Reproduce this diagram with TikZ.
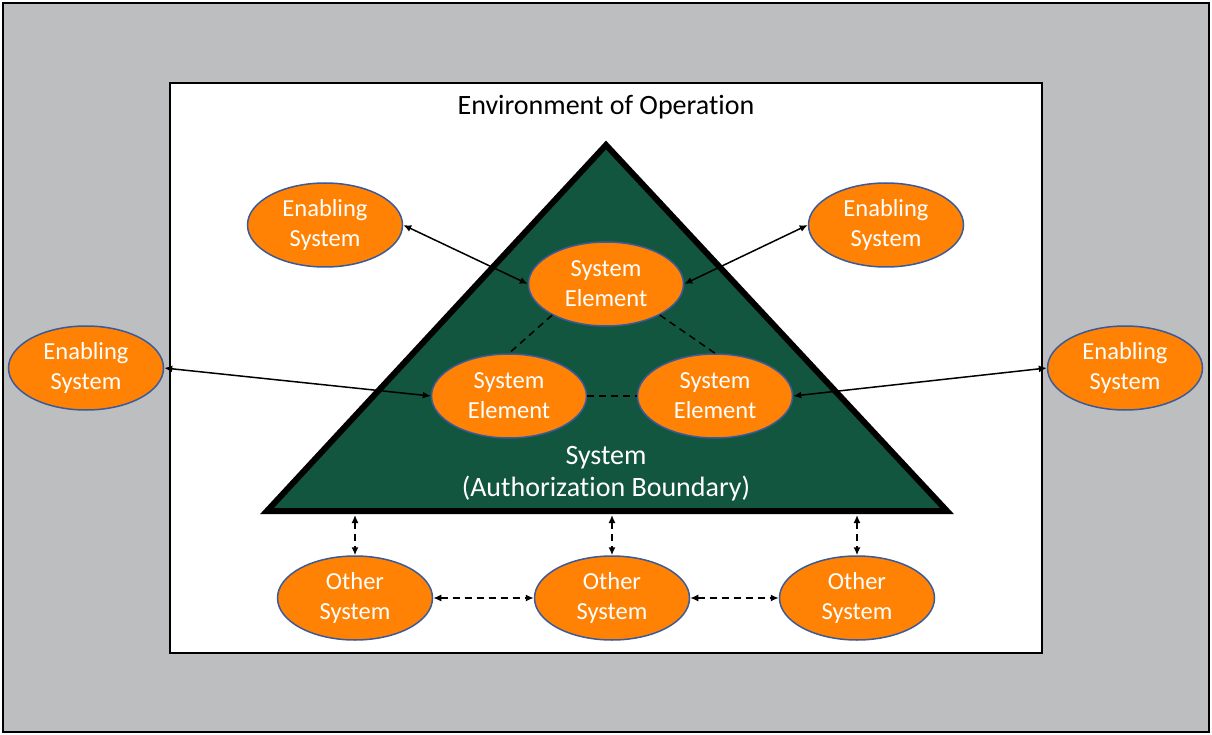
\documentclass[tikz,border=0pt]{standalone}
\usepackage{fontspec}
\setmainfont{Carlito}[Ligatures=NoCommon]
\usetikzlibrary{arrows.meta, positioning, shapes.geometric}

\definecolor{outergray}{HTML}{BDBEC0}
\definecolor{sysgreen}{HTML}{13563F}
\definecolor{sysorange}{HTML}{FF8205}
\definecolor{rimblue}{HTML}{3A5A9A}

\tikzset{
  sysell/.style={ellipse, draw=rimblue, line width=1.5pt, fill=sysorange,
    minimum width=155pt, minimum height=84pt, inner sep=0pt,
    text=white, align=center, font=\fontsize{24.5}{30}\selectfont},
  biglabel/.style={align=center, font=\fontsize{28}{32}\selectfont},
  link/.style={line width=1.5pt, {Latex[length=8pt,width=7pt]}-{Latex[length=8pt,width=7pt]}},
  dlink/.style={link, dash pattern=on 7pt off 5pt},
  dline/.style={line width=1.5pt, dash pattern=on 7pt off 5pt}
}

\begin{document}
\begin{tikzpicture}[x=1pt, y=-1pt]
			\useasboundingbox (0,0) rectangle (1212,735);

			% Draw the boxes
			\draw[fill=outergray, line width=2pt] (3,3) rectangle (1209,732);
			\draw[fill=white, line width=1.5pt] (170,83) rectangle (1042,653);
			\node[biglabel] (envlabel) at (606,107) {Environment of Operation};

			% Draw the authorization boundary
			\coordinate (apex) at (606,145);
			\coordinate (baseL) at (267,511);
			\coordinate (baseR) at (947,511);
			\draw[fill=sysgreen, line width=6pt, line join=miter] (apex) -- (baseR) -- (baseL) -- cycle;
			\node[biglabel, text=white] (syslabel) at (606,474)
				{System\\(Authorization Boundary)};

			% System elements
			\node[sysell] (elTop) at (606,284) {System\\Element};
			\node[sysell] (elLeft) at (509,396) {System\\Element};
			\node[sysell] (elRight) at (715,396) {System\\Element};

			% Enabling systems
			\node[sysell] (enTL) at (325,225) {Enabling\\System};
			\node[sysell] (enTR) at (886,225) {Enabling\\System};
			\node[sysell] (enL) at (86,368) {Enabling\\System};
			\node[sysell] (enR) at (1125,368) {Enabling\\System};

			% Other systems
			\node[sysell] (othL) at (355,598) {Other\\System};
			\node[sysell] (othM) at (612,598) {Other\\System};
			\node[sysell] (othR) at (857,598) {Other\\System};

			% Draw the links inside the boundary
			\draw[dline] (elTop.-150) -- (elLeft.north);
			\draw[dline] (elTop.-30) -- (elRight.north);
			\draw[dline] (elLeft.east) -- (elRight.west);

			% Draw the links to the enabling systems
			\draw[link] (enTL.east) -- (elTop.west);
			\draw[link] (enTR.west) -- (elTop.east);
			\draw[link] (enL.east) -- (elLeft.west);
			\draw[link] (enR.west) -- (elRight.east);

			% Draw the links to the other systems
			\coordinate (tapL) at (355,515);
			\coordinate (tapM) at (612,515);
			\coordinate (tapR) at (857,515);
			\draw[dlink] (tapL) -- (othL.north);
			\draw[dlink] (tapM) -- (othM.north);
			\draw[dlink] (tapR) -- (othR.north);
			\draw[dlink] (othL.east) -- (othM.west);
			\draw[dlink] (othM.east) -- (othR.west);

		\end{tikzpicture}
\end{document}
